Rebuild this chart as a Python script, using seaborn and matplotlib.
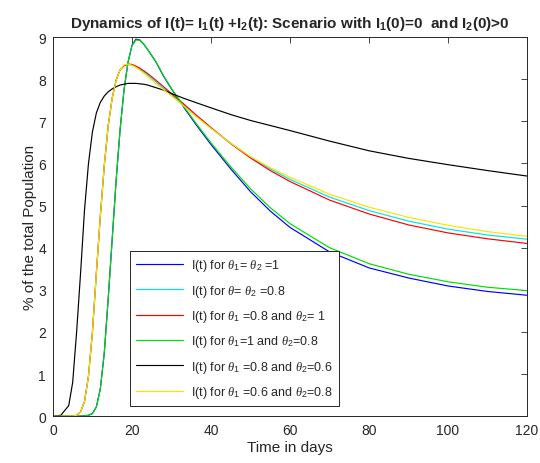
import numpy as np
import pandas as pd
import matplotlib
matplotlib.use("Agg")
import matplotlib.pyplot as plt
import seaborn as sns

days = [0, 2, 4, 5, 6, 7, 8, 9, 10, 11, 12, 13, 14, 15, 16, 17, 18, 19, 20, 21, 22, 23, 24,
        26, 28, 30, 33, 36, 40, 45, 50, 55, 60, 70, 80, 90, 100, 110, 120]

blue = [0, 0, 0, 0, 0, 0, 0.01, 0.02, 0.06, 0.22, 0.65, 1.5, 2.8, 4.2, 5.6, 6.8, 7.75, 8.4, 8.8, 8.95, 8.93, 8.83, 8.7,
        8.42, 8.07, 7.77, 7.35, 6.95, 6.45, 5.87, 5.33, 4.87, 4.48, 3.9, 3.52, 3.28, 3.09, 2.96, 2.87]
cyan = [0, 0, 0, 0, 0.02, 0.1, 0.35, 0.95, 2.0, 3.4, 4.75, 5.95, 6.9, 7.55, 7.98, 8.22, 8.33, 8.35, 8.33, 8.29, 8.23, 8.17, 8.1,
        7.94, 7.78, 7.63, 7.4, 7.15, 6.84, 6.48, 6.15, 5.87, 5.62, 5.2, 4.88, 4.63, 4.44, 4.3, 4.2]
red = [0, 0, 0, 0, 0.02, 0.1, 0.35, 0.95, 2.0, 3.4, 4.75, 5.95, 6.9, 7.55, 7.98, 8.22, 8.32, 8.36, 8.35, 8.31, 8.26, 8.2, 8.13,
       7.98, 7.82, 7.66, 7.42, 7.17, 6.85, 6.47, 6.13, 5.83, 5.57, 5.13, 4.8, 4.54, 4.35, 4.21, 4.1]
green = [0, 0, 0, 0, 0, 0, 0.01, 0.02, 0.06, 0.22, 0.65, 1.5, 2.8, 4.2, 5.6, 6.8, 7.75, 8.4, 8.79, 8.93, 8.92, 8.83, 8.7,
         8.43, 8.08, 7.78, 7.37, 6.98, 6.49, 5.92, 5.4, 4.95, 4.57, 4.0, 3.62, 3.37, 3.19, 3.06, 2.98]
black = [0, 0.02, 0.25, 0.8, 2.0, 3.4, 4.9, 6.0, 6.75, 7.2, 7.45, 7.6, 7.7, 7.77, 7.82, 7.86, 7.88, 7.9, 7.9, 7.9, 7.89, 7.88, 7.86,
         7.8, 7.74, 7.66, 7.55, 7.45, 7.32, 7.16, 7.02, 6.9, 6.78, 6.53, 6.3, 6.12, 5.97, 5.83, 5.7]
yellow = [0, 0, 0, 0, 0.02, 0.1, 0.35, 0.95, 2.0, 3.4, 4.75, 5.95, 6.9, 7.55, 7.98, 8.22, 8.34, 8.36, 8.33, 8.28, 8.21, 8.14, 8.06,
          7.9, 7.75, 7.6, 7.37, 7.13, 6.83, 6.48, 6.16, 5.9, 5.67, 5.27, 4.96, 4.72, 4.53, 4.38, 4.27]

labels = [r'I(t) for $\mathit{\theta}_{1}$= $\mathit{\theta}_{2}$ =1',
          r'I(t) for $\mathit{\theta}$= $\mathit{\theta}_{2}$ =0.8',
          r'I(t) for $\mathit{\theta}_{1}$ =0.8 and $\mathit{\theta}_{2}$= 1',
          r'I(t) for $\mathit{\theta}_{1}$=1 and $\mathit{\theta}_{2}$=0.8',
          r'I(t) for $\mathit{\theta}_{1}$ =0.8 and $\mathit{\theta}_{2}$=0.6',
          r'I(t) for $\mathit{\theta}_{1}$ =0.6 and $\mathit{\theta}_{2}$=0.8']
series = [blue, cyan, red, green, black, yellow]
colors = ['#0000ff', '#00e5e5', '#ff0000', '#00dd00', '#000000', '#f5e600']

rows = []
for lab, vals in zip(labels, series):
    for d, v in zip(days, vals):
        rows.append({'t': d, 'v': v, 'series': lab})
df = pd.DataFrame(rows)

sns.set_style('white')
plt.rcParams['font.family'] = ['Liberation Sans', 'DejaVu Sans']
plt.rcParams['mathtext.fontset'] = 'custom'
plt.rcParams['mathtext.rm'] = 'Liberation Sans'
plt.rcParams['mathtext.it'] = 'Liberation Serif:italic'
plt.rcParams['mathtext.bf'] = 'Liberation Sans:bold'

fig = plt.figure(figsize=(5.4, 4.64), dpi=100)
ax = fig.add_axes([0.098, 0.101, 0.878, 0.817])

sns.lineplot(data=df, x='t', y='v', hue='series', hue_order=labels,
             palette=dict(zip(labels, colors)), sort=False, estimator=None,
             linewidth=0.85, legend=False, ax=ax)

ax.set_xlim(0, 120)
ax.set_ylim(0, 9)
ax.set_xticks(range(0, 121, 20))
ax.set_yticks(range(0, 10))
ax.tick_params(direction='in', length=4, width=0.6, top=True, right=True,
               labelsize=10, colors='#262626', pad=5)
for s in ax.spines.values():
    s.set_color('#262626')
    s.set_linewidth(0.7)
ax.set_xlabel('Time in days', fontsize=11, color='#262626', labelpad=2)
ax.set_ylabel('% of the total Population', fontsize=11, color='#262626', labelpad=1)
ax.set_title(r'Dynamics of I(t)= I$_\mathbf{1}$(t) +I$_\mathbf{2}$(t): Scenario with I$_\mathbf{1}$(0)=0  and I$_\mathbf{2}$(0)>0',
             fontsize=11, fontweight='bold', pad=7)

handles = ax.get_lines()[:len(labels)]
leg = ax.legend(handles, labels, loc='lower left', bbox_to_anchor=(0.162, 0.026),
                fontsize=9, frameon=True, fancybox=False, edgecolor='#262626',
                framealpha=1, handlelength=3.8, labelspacing=0.75, borderpad=0.5,
                handletextpad=0.6, borderaxespad=0)
leg.get_frame().set_linewidth(0.7)

fig.savefig('out.png', dpi=100)
